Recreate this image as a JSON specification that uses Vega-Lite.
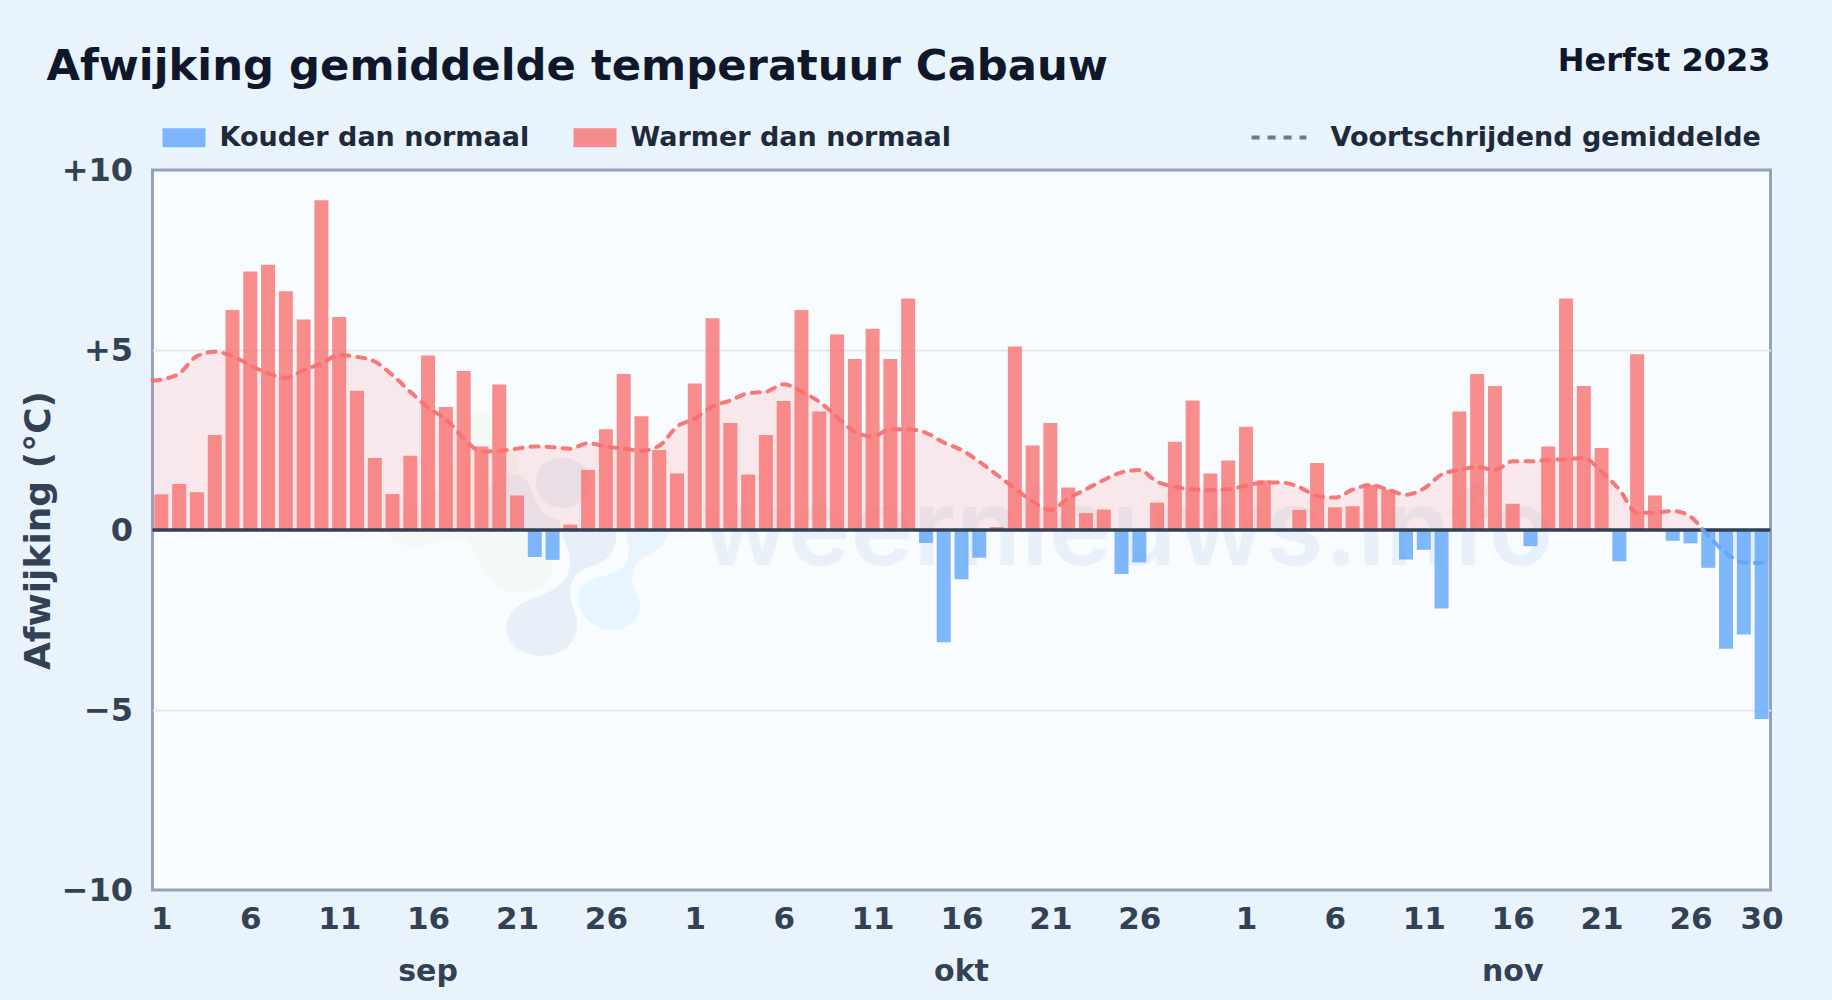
{"$schema":"https://vega.github.io/schema/vega-lite/v6.json","width":1618,"height":720,"autosize":"none","padding":{"left":152.5,"top":170,"right":61.5,"bottom":110},"background":"#e9f3fc",
"title":{"text":"Afwijking gemiddelde temperatuur Cabauw","anchor":"start","frame":"group","dx":-106,"offset":-44,"font":"DejaVu Sans","fontWeight":"bold","fontSize":43.3,"color":"#0f172a"},
"config":{"font":"DejaVu Sans","view":{"fill":"#f8fcff","stroke":"#94a3b8","strokeWidth":3}},
"datasets":{
"bars":[{"day":1,"anom":0.99},{"day":2,"anom":1.28},{"day":3,"anom":1.05},{"day":4,"anom":2.64},{"day":5,"anom":6.11},{"day":6,"anom":7.18},{"day":7,"anom":7.37},{"day":8,"anom":6.63},{"day":9,"anom":5.85},{"day":10,"anom":9.16},{"day":11,"anom":5.92},{"day":12,"anom":3.87},{"day":13,"anom":2.0},{"day":14,"anom":1.0},{"day":15,"anom":2.06},{"day":16,"anom":4.85},{"day":17,"anom":3.42},{"day":18,"anom":4.42},{"day":19,"anom":2.32},{"day":20,"anom":4.04},{"day":21,"anom":0.96},{"day":22,"anom":-0.75},{"day":23,"anom":-0.83},{"day":24,"anom":0.15},{"day":25,"anom":1.67},{"day":26,"anom":2.8},{"day":27,"anom":4.33},{"day":28,"anom":3.16},{"day":29,"anom":2.22},{"day":30,"anom":1.57},{"day":31,"anom":4.07},{"day":32,"anom":5.88},{"day":33,"anom":2.97},{"day":34,"anom":1.54},{"day":35,"anom":2.64},{"day":36,"anom":3.58},{"day":37,"anom":6.11},{"day":38,"anom":3.29},{"day":39,"anom":5.43},{"day":40,"anom":4.75},{"day":41,"anom":5.59},{"day":42,"anom":4.75},{"day":43,"anom":6.43},{"day":44,"anom":-0.36},{"day":45,"anom":-3.12},{"day":46,"anom":-1.37},{"day":47,"anom":-0.77},{"day":48,"anom":0.08},{"day":49,"anom":5.1},{"day":50,"anom":2.35},{"day":51,"anom":2.97},{"day":52,"anom":1.18},{"day":53,"anom":0.47},{"day":54,"anom":0.57},{"day":55,"anom":-1.22},{"day":56,"anom":-0.9},{"day":57,"anom":0.76},{"day":58,"anom":2.45},{"day":59,"anom":3.6},{"day":60,"anom":1.57},{"day":61,"anom":1.93},{"day":62,"anom":2.87},{"day":63,"anom":1.38},{"day":64,"anom":0.0},{"day":65,"anom":0.56},{"day":66,"anom":1.86},{"day":67,"anom":0.63},{"day":68,"anom":0.66},{"day":69,"anom":1.25},{"day":70,"anom":1.12},{"day":71,"anom":-0.82},{"day":72,"anom":-0.55},{"day":73,"anom":-2.18},{"day":74,"anom":3.29},{"day":75,"anom":4.33},{"day":76,"anom":4.0},{"day":77,"anom":0.73},{"day":78,"anom":-0.45},{"day":79,"anom":2.32},{"day":80,"anom":6.43},{"day":81,"anom":4.0},{"day":82,"anom":2.28},{"day":83,"anom":-0.87},{"day":84,"anom":4.88},{"day":85,"anom":0.96},{"day":86,"anom":-0.3},{"day":87,"anom":-0.37},{"day":88,"anom":-1.05},{"day":89,"anom":-3.3},{"day":90,"anom":-2.9},{"day":91,"anom":-5.25}],
"ma":[{"day":0.5,"ma":4.15,"part":"boven"},{"day":1,"ma":4.18,"part":"boven"},{"day":2,"ma":4.35,"part":"boven"},{"day":3,"ma":4.83,"part":"boven"},{"day":4,"ma":4.95,"part":"boven"},{"day":5,"ma":4.83,"part":"boven"},{"day":6,"ma":4.58,"part":"boven"},{"day":7,"ma":4.35,"part":"boven"},{"day":8,"ma":4.23,"part":"boven"},{"day":9,"ma":4.44,"part":"boven"},{"day":10,"ma":4.63,"part":"boven"},{"day":11,"ma":4.86,"part":"boven"},{"day":12,"ma":4.81,"part":"boven"},{"day":13,"ma":4.68,"part":"boven"},{"day":14,"ma":4.3,"part":"boven"},{"day":15,"ma":3.84,"part":"boven"},{"day":16,"ma":3.4,"part":"boven"},{"day":17,"ma":3.08,"part":"boven"},{"day":18,"ma":2.55,"part":"boven"},{"day":19,"ma":2.18,"part":"boven"},{"day":20,"ma":2.2,"part":"boven"},{"day":21,"ma":2.26,"part":"boven"},{"day":22,"ma":2.32,"part":"boven"},{"day":23,"ma":2.3,"part":"boven"},{"day":24,"ma":2.26,"part":"boven"},{"day":25,"ma":2.41,"part":"boven"},{"day":26,"ma":2.32,"part":"boven"},{"day":27,"ma":2.26,"part":"boven"},{"day":28,"ma":2.2,"part":"boven"},{"day":29,"ma":2.34,"part":"boven"},{"day":30,"ma":2.87,"part":"boven"},{"day":31,"ma":3.1,"part":"boven"},{"day":32,"ma":3.43,"part":"boven"},{"day":33,"ma":3.6,"part":"boven"},{"day":34,"ma":3.8,"part":"boven"},{"day":35,"ma":3.84,"part":"boven"},{"day":36,"ma":4.05,"part":"boven"},{"day":37,"ma":3.85,"part":"boven"},{"day":38,"ma":3.56,"part":"boven"},{"day":39,"ma":3.15,"part":"boven"},{"day":40,"ma":2.73,"part":"boven"},{"day":41,"ma":2.6,"part":"boven"},{"day":42,"ma":2.8,"part":"boven"},{"day":43,"ma":2.8,"part":"boven"},{"day":44,"ma":2.7,"part":"boven"},{"day":45,"ma":2.43,"part":"boven"},{"day":46,"ma":2.22,"part":"boven"},{"day":47,"ma":1.9,"part":"boven"},{"day":48,"ma":1.53,"part":"boven"},{"day":49,"ma":1.16,"part":"boven"},{"day":50,"ma":0.79,"part":"boven"},{"day":51,"ma":0.56,"part":"boven"},{"day":52,"ma":0.88,"part":"boven"},{"day":53,"ma":1.13,"part":"boven"},{"day":54,"ma":1.39,"part":"boven"},{"day":55,"ma":1.6,"part":"boven"},{"day":56,"ma":1.67,"part":"boven"},{"day":57,"ma":1.34,"part":"boven"},{"day":58,"ma":1.2,"part":"boven"},{"day":59,"ma":1.13,"part":"boven"},{"day":60,"ma":1.11,"part":"boven"},{"day":61,"ma":1.13,"part":"boven"},{"day":62,"ma":1.23,"part":"boven"},{"day":63,"ma":1.32,"part":"boven"},{"day":64,"ma":1.32,"part":"boven"},{"day":65,"ma":1.19,"part":"boven"},{"day":66,"ma":0.95,"part":"boven"},{"day":67,"ma":0.9,"part":"boven"},{"day":68,"ma":1.12,"part":"boven"},{"day":69,"ma":1.25,"part":"boven"},{"day":70,"ma":1.12,"part":"boven"},{"day":71,"ma":0.98,"part":"boven"},{"day":72,"ma":1.15,"part":"boven"},{"day":73,"ma":1.54,"part":"boven"},{"day":74,"ma":1.67,"part":"boven"},{"day":75,"ma":1.75,"part":"boven"},{"day":76,"ma":1.67,"part":"boven"},{"day":77,"ma":1.91,"part":"boven"},{"day":78,"ma":1.91,"part":"boven"},{"day":79,"ma":1.95,"part":"boven"},{"day":80,"ma":1.97,"part":"boven"},{"day":81,"ma":2.0,"part":"boven"},{"day":82,"ma":1.62,"part":"boven"},{"day":83,"ma":1.12,"part":"boven"},{"day":84,"ma":0.48,"part":"boven"},{"day":85,"ma":0.48,"part":"boven"},{"day":86,"ma":0.53,"part":"boven"},{"day":87,"ma":0.37,"part":"boven"},{"day":87.7,"ma":0.0,"part":"boven"},{"day":87.7,"ma":0.0,"part":"onder"},{"day":88,"ma":-0.16,"part":"onder"},{"day":89,"ma":-0.64,"part":"onder"},{"day":90,"ma":-0.9,"part":"onder"},{"day":91,"ma":-0.92,"part":"onder"},{"day":91.5,"ma":-0.92,"part":"onder"}],
"months":[{"day":16,"month":"sep"},{"day":46,"month":"okt"},{"day":77,"month":"nov"}]},
"encoding":{"x":{"field":"day","type":"quantitative","scale":{"domain":[0.5,91.5],"nice":false,"zero":false,"padding":0},"axis":{"values":[1,6,11,16,21,26,31,36,41,46,51,56,62,67,72,77,82,87,91],"labelExpr":"datum.value<=30?''+datum.value:datum.value<=61?''+(datum.value-30):''+(datum.value-61)","title":null,"grid":false,"domain":false,"ticks":false,"labelFontSize":31,"labelFontWeight":"bold","labelColor":"#334155","labelPadding":14,"labelFlush":false,"labelOverlap":false}}},
"layer":[
{"data":{"values":[{"day":55.3,"text":"weernieuws.info"}]},"mark":{"type":"text","font":"Inter","fontSize":106,"fontWeight":600,"color":"#e8f1fa","baseline":"alphabetic","align":"center","dy":35},"encoding":{"y":{"datum":0,"type":"quantitative","scale":{"domain":[-10,10],"nice":false},"axis":{"values":[-10,-5,0,5,10],"labelExpr":"datum.value>0?'+'+datum.value:datum.value<0?'−'+abs(datum.value):'0'","title":"Afwijking (°C)","titleFontSize":36,"titleFontWeight":"bold","titleColor":"#334155","titlePadding":4,"grid":true,"gridColor":{"condition":{"test":"abs(datum.value)==10","value":"transparent"},"value":"#e2e8f0"},"gridWidth":2,"domain":false,"ticks":false,"labelFontSize":32,"labelFontWeight":"bold","labelColor":"#334155","labelPadding":20}},"text":{"field":"text"}}},
{"data":{"values":[{"day":25}]},"mark":{"type":"point","filled":true,"size":4,"opacity":1,"color":"#f3f9f4","shape":"M-203 0C-198 12 -190 16 -175 16C-160 16 -145 8 -132 7C-120 8 -115 18 -110 28C-103 48 -90 63 -72 63C-55 63 -35 55 -35 37C-35 25 -45 12 -45 0C-50 -20 -60 -40 -70 -60C-72 -85 -78 -117 -105 -117C-125 -117 -130 -100 -130 -80L-150 -40C-170 -25 -195 -15 -203 0Z"},"encoding":{"y":{"datum":0,"type":"quantitative"}}},
{"data":{"values":[{"day":25}]},"mark":{"type":"point","filled":true,"size":4,"opacity":1,"color":"#e7f0f8","shape":"M-82 97C-82 85 -72 75 -55 68C-40 63 -20 55 -18 35C-17 20 -25 10 -28 0L28 0L28 7C28 20 20 32 2 37C-12 40 -18 50 -18 65C-18 75 -10 85 -11 97C-14 118 -30 126 -47 126C-65 126 -82 115 -82 97ZM-110 -5C-110 -30 -95 -57 -80 -57C-65 -55 -60 -50 -57 -40C-52 -25 -45 -12 -28 -10L-28 0L-110 0ZM-52 -47C-52 -65 -40 -72 -25 -72C-8 -72 2 -60 2 -47C2 -32 -10 -22 -25 -22C-40 -22 -52 -32 -52 -47Z"},"encoding":{"y":{"datum":0,"type":"quantitative"}}},
{"data":{"values":[{"day":25}]},"mark":{"type":"point","filled":true,"size":4,"opacity":1,"color":"#e9f5fe","shape":"M38 2L80 2C80 12 70 20 60 25C50 30 43 38 44 50C46 60 52 68 52 78C50 92 38 100 24 100C8 100 -10 88 -10 68C-10 58 -2 50 10 47C25 44 38 38 40 28C42 15 38 8 38 2Z"},"encoding":{"y":{"datum":0,"type":"quantitative"}}},
{"data":{"name":"ma"},"transform":[{"filter":"datum.part=='boven'"}],"mark":{"type":"area","interpolate":"monotone","color":"#f87171","opacity":0.14},"encoding":{"y":{"field":"ma","type":"quantitative"},"y2":{"datum":0}}},
{"data":{"name":"ma"},"transform":[{"filter":"datum.part=='onder'"}],"mark":{"type":"area","interpolate":"monotone","color":"#60a5fa","opacity":0.14},"encoding":{"y":{"field":"ma","type":"quantitative"},"y2":{"datum":0}}},
{"data":{"name":"bars"},"transform":[{"calculate":"datum.anom<0?'Kouder dan normaal':'Warmer dan normaal'","as":"kind"}],"mark":{"type":"bar","orient":"vertical","width":14,"opacity":0.8},"encoding":{"y":{"field":"anom","type":"quantitative"},"y2":{"datum":0},"color":{"field":"kind","type":"nominal","scale":{"domain":["Kouder dan normaal","Warmer dan normaal"],"range":["#60a5fa","#f87171"]},"legend":{"orient":"none","legendX":10,"legendY":-54,"direction":"horizontal","title":null,"symbolType":"M-1 -0.44H1V0.44H-1Z","symbolSize":1849,"symbolOpacity":0.8,"symbolStrokeWidth":0,"labelFontSize":27,"labelFontWeight":"bold","labelColor":"#1e293b","labelOffset":14,"labelLimit":600,"columnPadding":44,"labelFont":"DejaVu Sans"}}}},
{"data":{"values":[{"v":0}]},"mark":{"type":"rule","color":"#334155","strokeWidth":3.5},"encoding":{"x":null,"y":{"datum":0,"type":"quantitative"}}},
{"data":{"name":"ma"},"transform":[{"filter":"datum.part=='boven'"},{"calculate":"'Voortschrijdend gemiddelde'","as":"reeks"}],"mark":{"type":"line","interpolate":"monotone","color":"#f87171","strokeWidth":4,"strokeCap":"round","opacity":0.95},"encoding":{"y":{"field":"ma","type":"quantitative"},"strokeDash":{"field":"reeks","type":"nominal","scale":{"domain":["Voortschrijdend gemiddelde"],"range":[[8,8]]},"legend":{"orient":"none","legendX":1097,"legendY":-62,"title":null,"symbolType":"stroke","symbolSize":3000,"symbolStrokeColor":"#64748b","symbolStrokeWidth":4,"labelFontSize":27,"labelFontWeight":"bold","labelColor":"#1e293b","labelOffset":22,"labelLimit":600,"encode":{"symbols":{"update":{"strokeDash":{"value":[5,11]},"stroke":{"value":"#64748b"},"strokeCap":{"value":"butt"}}}}}}}},
{"data":{"name":"ma"},"transform":[{"filter":"datum.part=='onder'"}],"mark":{"type":"line","interpolate":"monotone","color":"#60a5fa","strokeWidth":4,"strokeCap":"round","strokeDash":[8,8],"opacity":0.9},"encoding":{"y":{"field":"ma","type":"quantitative"}}},
{"data":{"name":"months"},"mark":{"type":"text","fontSize":30,"fontWeight":"bold","color":"#334155","baseline":"middle","dy":82},"encoding":{"y":{"datum":-10,"type":"quantitative"},"text":{"field":"month"}}},
{"data":{"values":[{"day":91.5,"t":"Herfst 2023"}]},"mark":{"type":"text","fontSize":32,"fontWeight":"bold","color":"#0f172a","align":"right","baseline":"alphabetic","dy":-99},"encoding":{"y":{"datum":10,"type":"quantitative"},"text":{"field":"t"}}}
]}
